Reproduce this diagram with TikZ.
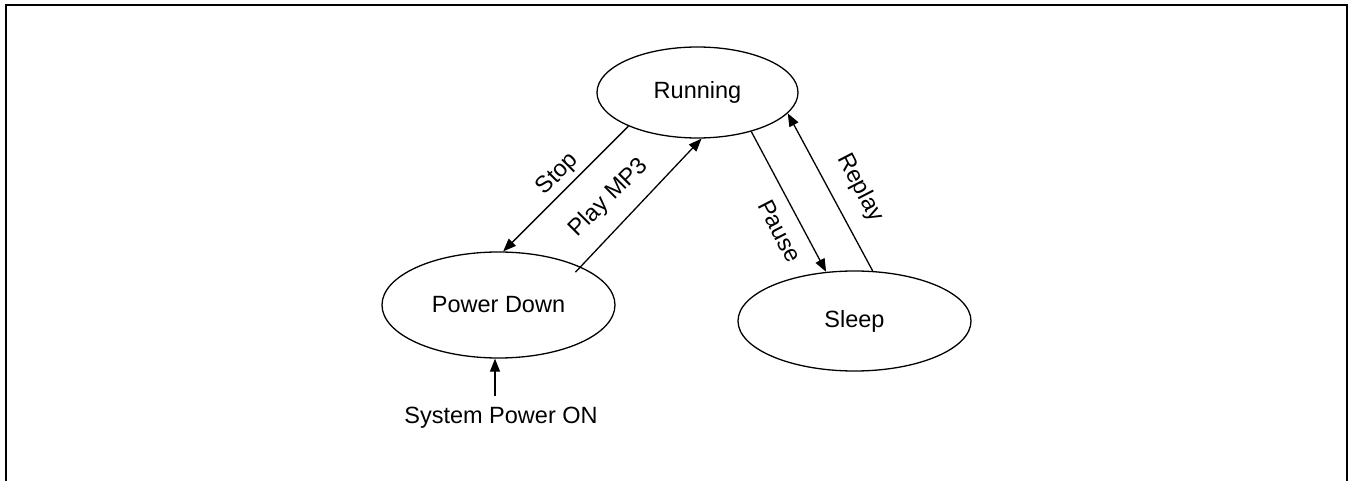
\documentclass[tikz,border=0pt]{standalone}
\usepackage{fontspec}
\setmainfont{Liberation Sans}
\usetikzlibrary{arrows.meta,shapes.geometric}
\newcommand\lblfont{\fontsize{23.5}{28}\selectfont}
\begin{document}
\begin{tikzpicture}[x=1pt,y=-1pt,
  state/.style={ellipse,draw,line width=1.3pt,inner sep=0pt,font=\lblfont},
  arr/.style={line width=1.3pt,-{Triangle[length=13pt,width=10pt]}},
  lbl/.style={font=\lblfont,inner sep=0pt}]
\useasboundingbox (0,0) rectangle (1353,481);
\draw[line width=2.2pt] (6,481) -- (6,5) -- (1347,5) -- (1347,481);

\node[state,minimum width=201pt,minimum height=91pt] (run) at (697.5,92.5) {Running};
\node[state,minimum width=233pt,minimum height=106pt] (pd) at (498.5,305) {Power Down};
\node[state,minimum width=233pt,minimum height=100pt] (sl) at (854.5,321) {Sleep};
\node[lbl] (sys) at (501,418) {System Power ON};
\coordinate (sysin) at (495,396);

\draw[arr] (run.206.4) -- (pd.85.2);
\draw[arr,shorten <=-7.5pt] (pd.25.5) -- (run.275.6);
\draw[arr] (run.324.6) -- (sl.120.9);
\draw[arr] (sl.70.1) -- (run.-13.5);
\draw[arr] (sysin) -- (sysin |- pd.south);

\node[lbl,rotate=45] (lstop) at (558,174) {Stop};
\node[lbl,rotate=45] (lplay) at (609,198) {Play MP3};
\node[lbl,rotate=-62.8] (lpause) at (780,231) {Pause};
\node[lbl,rotate=-62.6] (lreplay) at (860,188) {Replay};
\end{tikzpicture}
\end{document}
